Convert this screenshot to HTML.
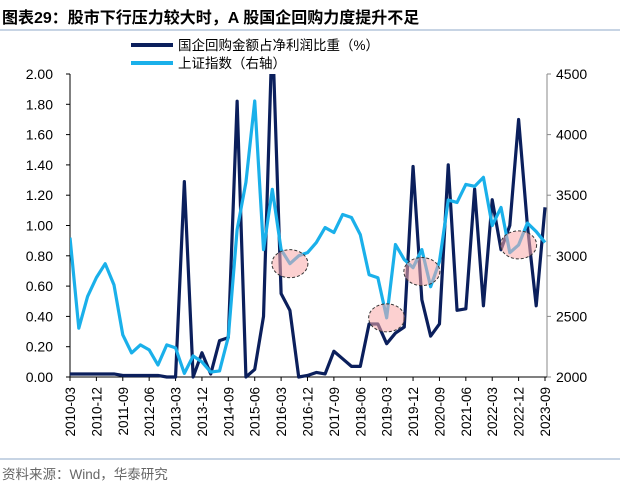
<!DOCTYPE html>
<html><head><meta charset="utf-8"><style>
body{margin:0;background:#fff;}
svg text{font-family:"Liberation Sans","Noto Sans CJK SC",sans-serif;}
</style></head><body>
<svg id="chart" width="620" height="491" viewBox="0 0 620 491" xmlns="http://www.w3.org/2000/svg">
<text x="2" y="23" font-size="16" font-weight="bold" fill="#000">图表29：股市下行压力较大时，A 股国企回购力度提升不足</text>
<line x1="0" y1="30" x2="620" y2="30" stroke="#8fa8c8" stroke-width="1"/>
<g>
<line x1="131" y1="45" x2="173" y2="45" stroke="#0b1f5c" stroke-width="4"/>
<text x="178" y="50" font-size="13.5" fill="#000">国企回购金额占净利润比重（%）</text>
<line x1="131" y1="63" x2="173" y2="63" stroke="#1ab0ea" stroke-width="4"/>
<text x="178" y="68" font-size="13.5" fill="#000">上证指数（右轴）</text>
</g>
<g id="axes"></g>
<g id="marks"></g>
<line x1="0" y1="459" x2="620" y2="459" stroke="#8fa8c8" stroke-width="1"/>
<text x="2" y="479" font-size="13.5" fill="#666">资料来源：Wind，华泰研究</text>
</svg>
<script>
const startYear = 2010;
const buyback = [0.02,0.02,0.02,0.02,0.02,0.02,0.01,0.01,0.01,0.01,0.01,0.0,0.0,1.29,0.0,0.16,0.02,0.24,0.26,1.82,0.0,0.05,0.40,3.0,0.55,0.44,0.0,0.01,0.03,0.02,0.17,0.12,0.07,0.07,0.35,0.35,0.22,0.29,0.33,1.39,0.51,0.27,0.35,1.40,0.44,0.45,1.24,0.47,1.17,0.84,1.0,1.70,1.0,0.47,1.12];
const shIndex = [3150,2403,2665,2820,2935,2760,2348,2199,2265,2224,2099,2265,2240,2030,2174,2124,2041,2050,2331,3217,3606,4277,3051,3548,3051,2935,3000,3026,3109,3233,3192,3341,3316,3175,2844,2819,2488,3093,2969,2902,3051,2745,2952,3460,3440,3589,3573,3647,3250,3399,3026,3090,3270,3200,3110];
const leftTicks = [0,0.2,0.4,0.6,0.8,1.0,1.2,1.4,1.6,1.8,2.0];
const rightTicks = [2000,2500,3000,3500,4000,4500];
const highlights = [[25,2935],[36,2488],[40,2870],[51,3090]];

const NS="http://www.w3.org/2000/svg";
const X0=70, X1=545, YT=74, YB=377;
const n=buyback.length;
const x=i=>X0+(X1-X0)*i/(n-1);
const yL=v=>YB-(YB-YT)*Math.min(v,2.3)/2;
const yR=v=>YB-(YB-YT)*(v-2000)/2500;
const axes=document.getElementById('axes'), marks=document.getElementById('marks');
function mk(tag,attrs,parent){const e=document.createElementNS(NS,tag);for(const k in attrs)e.setAttribute(k,attrs[k]);parent.appendChild(e);return e;}
function label(i){const q=i%4;return (startYear+Math.floor(i/4))+'-'+['03','06','09','12'][q];}

let el=mk('line',{x1:X0,y1:YT,x2:X0,y2:YB,stroke:'#000','stroke-width':1},axes);


el=mk('line',{x1:X1+2,y1:YT,x2:X1+2,y2:YB,stroke:'#888','stroke-width':1},axes);


el=mk('line',{x1:X0,y1:YB,x2:X1+2,y2:YB,stroke:'#000','stroke-width':1},axes);


leftTicks.forEach(v=>{
  const y=yL(v);
  const t=mk('line',{x1:X0-4,y1:y,x2:X0,y2:y,stroke:'#000'},axes);
  
  
  const tx=mk('text',{x:53,y:y+5,'font-size':14,'text-anchor':'end',fill:'#000'},axes);
  tx.textContent=v.toFixed(2);
  
  
});
rightTicks.forEach(v=>{
  const y=yR(v);
  const t=mk('line',{x1:X1+2,y1:y,x2:X1+6,y2:y,stroke:'#888'},axes);
  
  
  const tx=mk('text',{x:556,y:y+5,'font-size':14,fill:'#000'},axes);
  tx.textContent=v;
  
  
});
for(let i=0;i<n;i+=3){
  const xx=x(i);
  const t=mk('line',{x1:xx,y1:YB,x2:xx,y2:YB+4,stroke:'#000'},axes);
  
  
  const tx=mk('text',{x:0,y:0,'font-size':13.5,'text-anchor':'end',fill:'#000',transform:`translate(${xx+5},${YB+10}) rotate(-90)`},axes);
  tx.textContent=label(i);
  
  
}
const clip=mk('clipPath',{id:'pc'},marks);
mk('rect',{x:X0,y:YT,width:X1-X0+2,height:YB-YT+2},clip);
el=mk('polyline',{points:buyback.map((v,i)=>x(i)+','+yL(v)).join(' '),fill:'none',stroke:'#0b1f5c','stroke-width':3.2,'stroke-linejoin':'round','clip-path':'url(#pc)'},marks);


el=mk('polyline',{points:shIndex.map((v,i)=>x(i)+','+yR(v)).join(' '),fill:'none',stroke:'#1ab0ea','stroke-width':3.2,'stroke-linejoin':'round','clip-path':'url(#pc)'},marks);


highlights.forEach(h=>{
  const c=mk('ellipse',{cx:x(h[0]),cy:yR(h[1]),rx:18,ry:14,fill:'rgba(250,170,170,0.55)',stroke:'#333','stroke-width':1,'stroke-dasharray':'3,2'},marks);
  
  
});
</script>
</body></html>
